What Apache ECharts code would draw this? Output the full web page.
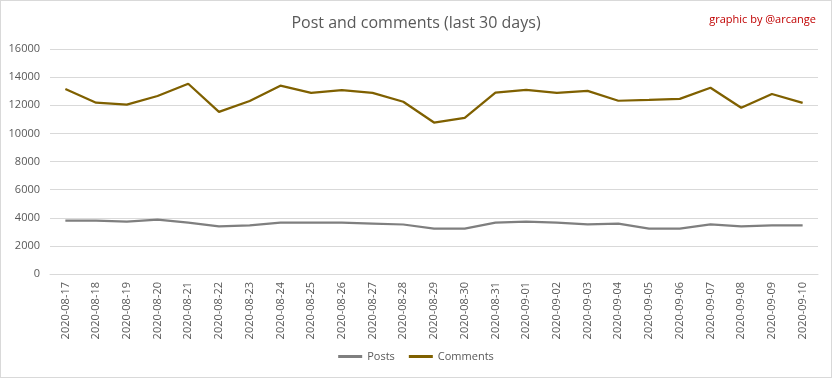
<!DOCTYPE html>
<html>
<head>
<meta charset="utf-8">
<script src="https://cdn.jsdelivr.net/npm/echarts@6/dist/echarts.min.js"></script>
<style>
  html, body { margin: 0; padding: 0; background: #fff; }
  #chart { width: 830px; height: 376px; border: 1px solid #d9d9d9; }
</style>
</head>
<body>
<div id="chart"></div>
<script>
const dates = [
  "2020-08-17", "2020-08-18", "2020-08-19", "2020-08-20", "2020-08-21",
  "2020-08-22", "2020-08-23", "2020-08-24", "2020-08-25", "2020-08-26",
  "2020-08-27", "2020-08-28", "2020-08-29", "2020-08-30", "2020-08-31",
  "2020-09-01", "2020-09-02", "2020-09-03", "2020-09-04", "2020-09-05",
  "2020-09-06", "2020-09-07", "2020-09-08", "2020-09-09", "2020-09-10"
];
const posts = [
  3800, 3790, 3720, 3870, 3650, 3380, 3450, 3650, 3660, 3660,
  3590, 3520, 3220, 3220, 3650, 3720, 3650, 3530, 3580, 3230,
  3230, 3530, 3390, 3450, 3450
];
const comments = [
  13160, 12180, 12040, 12660, 13530, 11530, 12300, 13390, 12880, 13080,
  12880, 12250, 10770, 11100, 12900, 13090, 12880, 13020, 12320, 12380,
  12450, 13240, 11820, 12800, 12170
];

const chart = echarts.init(document.getElementById("chart"));
const font = "'Open Sans', 'Liberation Sans', sans-serif";

chart.setOption({
  animation: false,
  textStyle: { fontFamily: font },
  title: [
    {
      text: "Post and comments (last 30 days)",
      left: "center",
      top: 9,
      textStyle: { fontSize: 16, fontWeight: "normal", color: "#595959", fontFamily: font }
    },
    {
      text: "graphic by @arcange",
      right: 10,
      top: 8,
      textStyle: { fontSize: 11, fontWeight: "normal", color: "#c00000", fontFamily: font }
    }
  ],
  legend: {
    bottom: 10,
    left: "center",
    itemWidth: 24,
    itemHeight: 3,
    itemGap: 14,
    icon: "rect",
    textStyle: { fontSize: 11, color: "#595959" },
    data: ["Posts", "Comments"]
  },
  grid: { left: 49, right: 13, top: 48, bottom: 103 },
  xAxis: {
    type: "category",
    data: dates,
    boundaryGap: true,
    axisLine: { lineStyle: { color: "#d9d9d9" } },
    axisTick: { show: false },
    axisLabel: { rotate: 90, interval: 0, fontSize: 11, color: "#595959", margin: 8 }
  },
  yAxis: {
    type: "value",
    min: 0,
    max: 16000,
    interval: 2000,
    axisLine: { show: false },
    axisTick: { show: false },
    axisLabel: { fontSize: 11, color: "#595959", margin: 10, formatter: (v) => String(v) },
    splitLine: { lineStyle: { color: "#d9d9d9" } }
  },
  series: [
    {
      name: "Posts",
      type: "line",
      data: posts,
      showSymbol: false,
      color: "#7f7f7f",
      lineStyle: { width: 2.25 }
    },
    {
      name: "Comments",
      type: "line",
      data: comments,
      showSymbol: false,
      color: "#7f6000",
      lineStyle: { width: 2.25 }
    }
  ]
});
</script>
</body>
</html>
